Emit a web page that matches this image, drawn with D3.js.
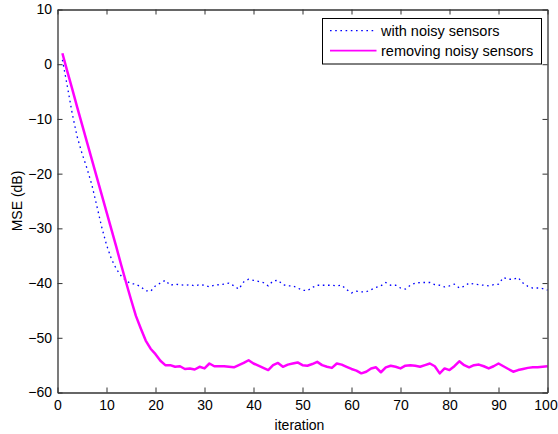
<!DOCTYPE html>
<html><head><meta charset="utf-8">
<script src="https://cdn.jsdelivr.net/npm/d3@7"></script>
<style>html,body{margin:0;padding:0;background:#fff;}</style>
</head><body>
<svg id="chart" width="558" height="434"></svg>
<script>
const iterations = d3.range(1, 101);
const withNoisy = [0.8,-4.0,-9.0,-13.2,-16.3,-19.0,-22.0,-25.8,-29.7,-33.0,
-35.6,-37.4,-38.7,-39.6,-40.1,-40.2,-40.7,-41.4,-41.5,-40.5,
-40.0,-39.5,-40.4,-40.2,-40.3,-40.4,-40.3,-40.5,-40.3,-40.4,
-40.7,-40.4,-40.3,-40.2,-40.0,-40.5,-41.1,-39.8,-39.3,-39.5,
-39.7,-39.9,-40.5,-39.6,-39.5,-40.3,-40.5,-40.5,-40.9,-41.3,
-41.4,-40.8,-40.4,-40.4,-40.4,-40.4,-40.5,-40.4,-41.2,-41.8,
-41.5,-41.6,-41.6,-41.2,-40.8,-40.5,-39.9,-40.4,-40.4,-40.9,
-41.1,-40.4,-40.0,-39.9,-39.9,-39.9,-40.3,-40.4,-40.7,-40.5,
-40.2,-40.9,-40.6,-40.0,-40.2,-40.3,-40.4,-40.5,-40.3,-40.2,
-39.0,-39.3,-39.3,-39.0,-40.0,-40.6,-40.9,-40.9,-41.0,-41.3];
const removingNoisy = [2.0,-1.3,-4.5,-7.8,-11.0,-14.2,-17.4,-20.6,-23.8,-27.0,
-30.2,-33.4,-36.7,-39.9,-43.0,-46.0,-48.3,-50.5,-52.0,-53.0,
-54.2,-55.0,-55.0,-55.3,-55.2,-55.7,-55.6,-55.8,-55.3,-55.6,
-54.7,-55.2,-55.2,-55.2,-55.3,-55.4,-55.0,-54.6,-54.1,-54.7,
-55.1,-55.5,-55.9,-55.0,-54.6,-55.3,-54.9,-54.7,-54.5,-55.0,
-55.1,-54.8,-54.4,-55.0,-55.3,-55.5,-54.7,-54.9,-55.3,-55.7,
-56.0,-56.5,-56.2,-55.6,-55.4,-56.3,-55.4,-55.1,-55.3,-55.6,
-55.1,-55.0,-55.1,-55.3,-55.0,-54.7,-55.2,-56.5,-55.6,-55.9,
-55.2,-54.3,-55.0,-55.4,-55.0,-54.9,-55.2,-55.6,-55.2,-54.7,
-55.2,-55.7,-56.2,-55.9,-55.7,-55.5,-55.4,-55.4,-55.3,-55.2];
const xTicks = [0,10,20,30,40,50,60,70,80,90,100];
const yTicks = [-60,-50,-40,-30,-20,-10,0,10];
const seriesNames = ["with noisy sensors", "removing noisy sensors"];
const seriesColors = ["#0000ff", "#ff00ff"];

const svg = d3.select("#chart");
const L = 57.5, R = 547.5, T = 9.5, B = 392.5;
const x = d3.scaleLinear().domain([0, 100]).range([L, R]);
const y = d3.scaleLinear().domain([-60, 10]).range([B, T]);
const font = "'Liberation Sans', Arial, sans-serif";
const axisColor = "#333";

// lines
const line = d3.line().x((d, i) => x(iterations[i])).y(d => y(d));
svg.append("path").datum(withNoisy).attr("d", line)
  .attr("fill", "none").attr("stroke", seriesColors[0]).attr("stroke-width", 1.3)
  .attr("stroke-dasharray", "1.6,3.6");
svg.append("path").datum(removingNoisy).attr("d", line)
  .attr("fill", "none").attr("stroke", seriesColors[1]).attr("stroke-width", 2.5)
  .attr("stroke-linejoin", "round");

// axes (ticks inward, box)
const tl = 5;
const gB = svg.append("g").attr("transform", `translate(0,${B})`)
  .call(d3.axisBottom(x).tickValues(xTicks).tickSizeInner(-tl).tickSizeOuter(0).tickPadding(10));
const gT = svg.append("g").attr("transform", `translate(0,${T})`)
  .call(d3.axisTop(x).tickValues(xTicks).tickSizeInner(-tl).tickSizeOuter(0).tickFormat(""));
const gL = svg.append("g").attr("transform", `translate(${L},0)`)
  .call(d3.axisLeft(y).tickValues(yTicks).tickSizeInner(-tl).tickSizeOuter(0).tickPadding(10));
const gR = svg.append("g").attr("transform", `translate(${R},0)`)
  .call(d3.axisRight(y).tickValues(yTicks).tickSizeInner(-tl).tickSizeOuter(0).tickFormat(""));
[gB, gT, gL, gR].forEach(g => {
  g.selectAll(".domain").attr("stroke", axisColor).attr("stroke-width", 1.3);
  g.selectAll(".tick line").attr("stroke", axisColor).attr("stroke-width", 1);
  g.selectAll(".tick text").attr("fill", "#000").style("font-family", font).style("font-size", "14px");
});
gL.selectAll(".tick text").attr("x", -5.5);
gB.selectAll(".tick text").attr("y", 8);
// keep the last label inside the page
gB.selectAll(".tick text").filter(d => d === 100).attr("dx", -2);

// axis labels
svg.append("text").attr("x", (L + R) / 2 - 3).attr("y", 429.5).attr("text-anchor", "middle")
  .style("font-family", font).style("font-size", "14px").text("iteration");
svg.append("text").attr("transform", `translate(22,${(T + B) / 2}) rotate(-90)`)
  .attr("text-anchor", "middle").style("font-family", font).style("font-size", "14px").text("MSE (dB)");

// legend
const lg = svg.append("g");
lg.append("rect").attr("x", 322.5).attr("y", 18.5).attr("width", 219).attr("height", 45.5)
  .attr("fill", "#fff").attr("stroke", "#000").attr("stroke-width", 1);
const legY = [30.7, 50.7];
seriesNames.forEach((name, k) => {
  lg.append("line").attr("x1", 330).attr("x2", 376.5).attr("y1", legY[k]).attr("y2", legY[k])
    .attr("stroke", seriesColors[k]).attr("stroke-width", k === 0 ? 1.3 : 1.8)
    .attr("stroke-dasharray", k === 0 ? "1.6,3.6" : null);
  lg.append("text").attr("x", 381).attr("y", legY[k] + 5)
    .style("font-family", font).style("font-size", "14.5px").text(name);
});
</script>
</body></html>
